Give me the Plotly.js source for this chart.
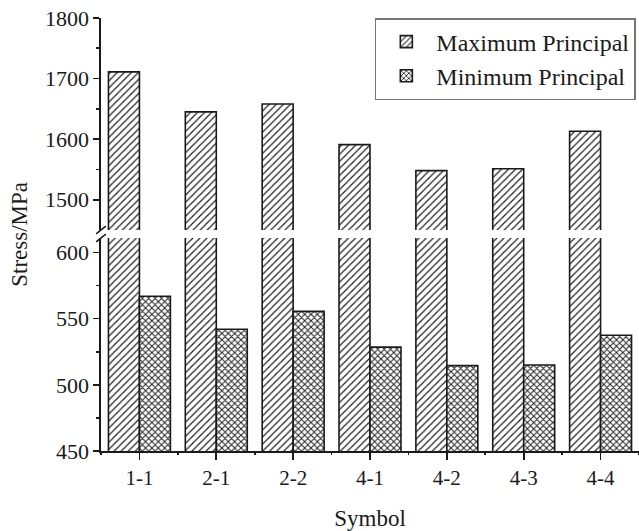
<!DOCTYPE html>
<html>
<head>
<meta charset="utf-8">
<script src="https://cdn.plot.ly/plotly-3.0.1.min.js"></script>
<style>html,body{margin:0;padding:0;background:#fff;}#chart{width:639px;height:531px;}</style>
</head>
<body>
<div id="chart"></div>
<script>
const categories = ["1-1", "2-1", "2-2", "4-1", "4-2", "4-3", "4-4"];
const maxPrincipal = [1711, 1645, 1658, 1591, 1548, 1551, 1613];
const minPrincipal = [567, 542, 555.5, 528.5, 514.5, 515, 537.5];
const seriesNames = ["Maximum Principal", "Minimum Principal"];
const upperTicks = [1500, 1600, 1700, 1800];
const upperMinor = [1550, 1650, 1750];
const lowerTicks = [450, 500, 550, 600];
const lowerMinor = [475, 525, 575];

const FONT = "Liberation Serif, Times New Roman, serif";
const INK = "#1a1a1a";
const W = 0.403;

const maxPattern = {shape: "/", size: 5, solidity: 0.25, fgcolor: "#222", bgcolor: "#fff", fillmode: "replace"};
const minPattern = {shape: "x", size: 4.5, solidity: 0.4, fgcolor: "#222", bgcolor: "#fff", fillmode: "replace"};

const traces = [
  {type: "bar", name: seriesNames[0], x: categories, y: maxPrincipal, xaxis: "x", yaxis: "y",
   width: W, offset: -W, marker: {color: "#fff", pattern: maxPattern, line: {color: INK, width: 1.6}}},
  {type: "bar", name: seriesNames[1], x: categories, y: minPrincipal, xaxis: "x", yaxis: "y",
   width: W, offset: 0, marker: {color: "#fff", pattern: minPattern, line: {color: INK, width: 1.6}}},
  {type: "bar", name: seriesNames[0], x: categories, y: maxPrincipal, xaxis: "x2", yaxis: "y2", showlegend: false,
   width: W, offset: -W, marker: {color: "#fff", pattern: maxPattern, line: {color: INK, width: 1.6}}}
];

const lowerTop = 0.492, upperBottom = 0.5104;

const layout = {
  width: 639, height: 531,
  margin: {l: 101, r: 0, t: 18, b: 80},
  paper_bgcolor: "#fff", plot_bgcolor: "rgba(0,0,0,0)",
  showlegend: true,
  barmode: "overlay",
  font: {family: FONT, color: INK},
  xaxis: {
    type: "category", categoryarray: categories, range: [-0.5, 6.5],
    anchor: "y", showline: true, linecolor: INK, linewidth: 1.6,
    ticks: "outside", ticklen: 7, tickwidth: 1.6, tickcolor: INK,
    tickfont: {family: FONT, size: 21, color: INK}, showgrid: false, zeroline: false,
    title: {text: "Symbol", font: {family: FONT, size: 23, color: INK}, standoff: 24}
  },
  xaxis2: {
    type: "category", categoryarray: categories, range: [-0.5, 6.5],
    overlaying: "x", anchor: "y", side: "bottom", tickson: "boundaries",
    ticks: "outside", ticklen: 3, tickwidth: 1.6, tickcolor: INK,
    showticklabels: false, showgrid: false, zeroline: false, showline: false
  },
  yaxis: {
    domain: [0, lowerTop], range: [450, 611], anchor: "x",
    showline: true, linecolor: INK, linewidth: 1.6,
    tickvals: lowerTicks, ticks: "outside", ticklen: 6, tickwidth: 1.6, tickcolor: INK,
    minor: {tickvals: lowerMinor, ticks: "outside", ticklen: 3, tickwidth: 1.6, tickcolor: INK},
    tickfont: {family: FONT, size: 22, color: INK}, showgrid: false, zeroline: false
  },
  yaxis2: {
    domain: [upperBottom, 1], range: [1450, 1800], anchor: "x2",
    showline: true, linecolor: INK, linewidth: 1.6,
    tickvals: upperTicks, ticks: "outside", ticklen: 6, tickwidth: 1.6, tickcolor: INK,
    minor: {tickvals: upperMinor, ticks: "outside", ticklen: 3, tickwidth: 1.6, tickcolor: INK},
    tickfont: {family: FONT, size: 22, color: INK}, showgrid: false, zeroline: false
  },
  legend: {
    x: 0.509, y: 1, xanchor: "left", yanchor: "top",
    bgcolor: "#fff", bordercolor: "#777", borderwidth: 1.5,
    font: {family: FONT, size: 24, color: INK},
    itemwidth: 50, tracegroupgap: 0, traceorder: "normal"
  },
  annotations: [
    {text: "Stress/MPa", xref: "paper", yref: "paper", x: -0.152, y: 0.5, xanchor: "center", yanchor: "middle",
     textangle: -90, showarrow: false, font: {family: FONT, size: 23, color: INK}}
  ],
  shapes: [
    {type: "line", xref: "paper", yref: "paper", x0: -0.009, x1: 0.009, y0: upperBottom - 0.009, y1: upperBottom + 0.009,
     line: {color: INK, width: 1.6}},
    {type: "line", xref: "paper", yref: "paper", x0: -0.009, x1: 0.009, y0: lowerTop - 0.009, y1: lowerTop + 0.009,
     line: {color: INK, width: 1.6}}
  ]
};

Plotly.newPlot("chart", traces, layout, {displayModeBar: false, staticPlot: true});
</script>
</body>
</html>
